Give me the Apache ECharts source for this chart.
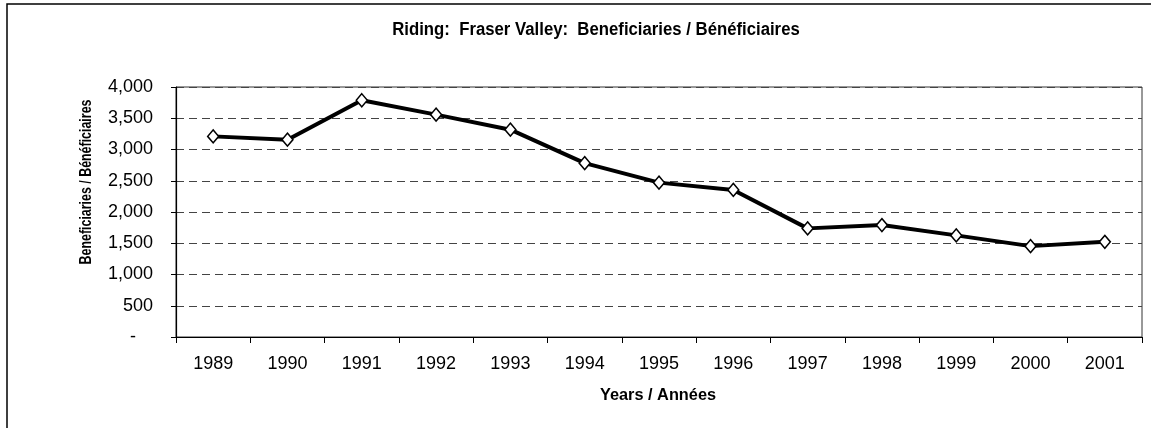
<!DOCTYPE html>
<html>
<head>
<meta charset="utf-8">
<script src="https://cdn.jsdelivr.net/npm/echarts@6/dist/echarts.min.js"></script>
<style>
  html, body { margin: 0; padding: 0; background: #fff; }
  #main { width: 1151px; height: 428px; }
</style>
</head>
<body>
<div id="main"></div>
<script>
// data
var years = ['1989', '1990', '1991', '1992', '1993', '1994', '1995', '1996', '1997', '1998', '1999', '2000', '2001'];
var beneficiaries = [3210, 3157, 3788, 3558, 3317, 2782, 2470, 2353, 1738, 1791, 1626, 1454, 1523];
var yTicks = [0, 500, 1000, 1500, 2000, 2500, 3000, 3500, 4000];

var titleText = 'Riding:  Fraser Valley:  Beneficiaries / Bénéficiaires';
var xName = 'Years / Années';
var yName = 'Beneficiaries / Bénéficiaires';

var FONT = '"Liberation Sans", Arial, sans-serif';

var myChart = echarts.init(document.getElementById('main'));

// 0 is shown as a dash, like the accounting format
function fmt(v) {
    if (v == 0) return '{z|-}';
    return v.toString().replace(/\B(?=(\d{3})+(?!\d))/g, ',');
}

// bold narrow-looking label
function boldText(txt, x, y, size, sx, rot) {
    return {
        type: 'text',
        x: x,
        y: y,
        rotation: rot || 0,
        scaleX: sx,
        silent: true,
        style: {
            text: txt,
            fontFamily: FONT,
            fontWeight: 'bold',
            fontSize: size,
            fill: '#000',
            align: 'center',
            verticalAlign: 'middle'
        }
    };
}

var option = {
    backgroundColor: '#fff',
    animation: false,
    graphic: [
        {
            type: 'rect',
            shape: { x: 7, y: 4, width: 1160, height: 440 },
            style: { fill: null, stroke: '#000', lineWidth: 1.5 },
            silent: true
        },
        boldText(titleText, 596, 30, 18, 0.93),
        boldText(yName, 86, 182, 17, 0.73, Math.PI / 2),
        boldText(xName, 658, 395, 17, 0.96)
    ],
    grid: {
        left: 176,
        right: 9,
        top: 87,
        bottom: 91,
        show: true,
        borderColor: '#333',
        borderWidth: 1,
        backgroundColor: '#fff'
    },
    xAxis: {
        type: 'category',
        data: years,
        boundaryGap: true,
        axisLine: { lineStyle: { color: '#000', width: 1.2 } },
        axisTick: { show: true, inside: false, length: 6, lineStyle: { color: '#000' } },
        axisLabel: {
            margin: 18,
            fontFamily: FONT,
            fontSize: 18,
            color: '#000'
        }
    },
    yAxis: {
        type: 'value',
        min: 0,
        max: 4000,
        interval: 500,
        axisLine: { show: true, lineStyle: { color: '#000', width: 1.2 } },
        axisTick: { show: true, inside: false, length: 5, lineStyle: { color: '#000' } },
        axisLabel: {
            margin: 23,
            fontFamily: FONT,
            fontSize: 18,
            color: '#000',
            formatter: fmt,
            rich: {
                z: { fontFamily: FONT, fontSize: 18, color: '#000', padding: [0, 17, 0, 0] }
            }
        },
        splitLine: {
            show: true,
            lineStyle: { color: '#444', type: [8, 5], width: 1 }
        }
    },
    series: [{
        name: yName,
        type: 'line',
        data: beneficiaries,
        symbol: 'diamond',
        symbolSize: [11, 13],
        itemStyle: { color: '#fff', borderColor: '#000', borderWidth: 1.5 },
        lineStyle: { color: '#000', width: 4 },
        z: 3
    }]
};

myChart.setOption(option);
</script>
</body>
</html>
